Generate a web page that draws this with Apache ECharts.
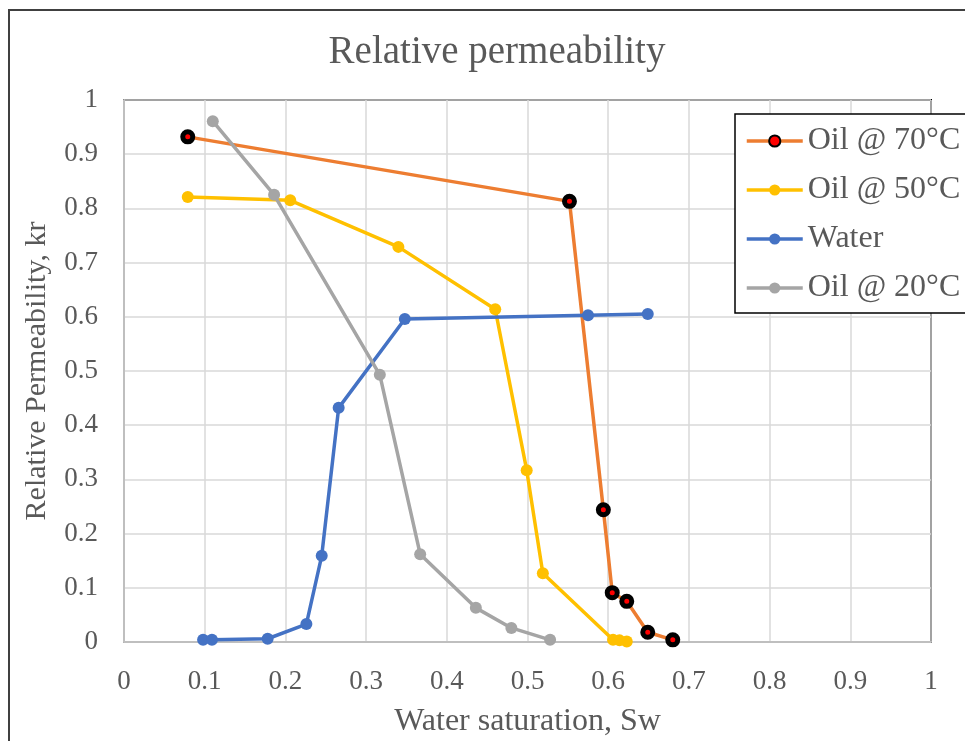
<!DOCTYPE html>
<html>
<head>
<meta charset="utf-8">
<script src="https://cdn.jsdelivr.net/npm/echarts@6/dist/echarts.min.js"></script>
<style>
  html, body { margin: 0; padding: 0; background: #ffffff; }
  #chart { width: 965px; height: 741px; }
</style>
</head>
<body>
<div id="chart"></div>
<script>
// Water saturation (Sw) and relative permeability (kr) for each curve
const sw70 = [0.079, 0.552, 0.594, 0.605, 0.623, 0.649, 0.680];
const kr70 = [0.932, 0.813, 0.244, 0.091, 0.075, 0.018, 0.004];

const sw50 = [0.079, 0.206, 0.340, 0.460, 0.499, 0.519, 0.606, 0.614, 0.623];
const kr50 = [0.821, 0.815, 0.729, 0.614, 0.317, 0.127, 0.004, 0.003, 0.001];

const swWater = [0.098, 0.109, 0.178, 0.226, 0.245, 0.266, 0.348, 0.575, 0.649];
const krWater = [0.004, 0.004, 0.006, 0.033, 0.159, 0.432, 0.596, 0.603, 0.605];

const sw20 = [0.110, 0.186, 0.317, 0.367, 0.436, 0.480, 0.528];
const kr20 = [0.961, 0.825, 0.493, 0.162, 0.063, 0.026, 0.004];

const seriesNames = ['Oil @ 70°C', 'Oil @ 50°C', 'Water', 'Oil @ 20°C'];
const titleText = 'Relative permeability';
const xAxisName = 'Water saturation, Sw';
const yAxisName = 'Relative Permeability, kr';

const pairs = (xs, ys) => xs.map((x, i) => [x, ys[i]]);

const FONT = '"Liberation Serif", "Times New Roman", serif';
const TEXT = '#595959';

const chart = echarts.init(document.getElementById('chart'), null, { renderer: 'canvas' });

function lineSeries(name, color, data, extra) {
  return Object.assign({
    name: name,
    type: 'line',
    data: data,
    symbol: 'circle',
    symbolSize: 12,
    showSymbol: true,
    lineStyle: { color: color, width: 3.5 },
    itemStyle: { color: color },
    emphasis: { disabled: true },
    animation: false
  }, extra || {});
}

chart.setOption({
  animation: false,
  backgroundColor: '#ffffff',
  title: {
    text: titleText,
    left: 492,
    textAlign: 'center',
    top: 28,
    textStyle: { fontFamily: FONT, fontSize: 39, fontWeight: 'normal', color: TEXT }
  },
  graphic: [{
    type: 'rect',
    z: 100,
    shape: { x: 9, y: 10, width: 1000, height: 800 },
    style: { fill: 'none', stroke: '#404040', lineWidth: 2 }
  }],
  grid: {
    left: 124, right: 34, top: 100, bottom: 99,
    outerBoundsMode: 'none',
    containLabel: false,
    show: true,
    borderColor: '#000000',
    borderWidth: 2,
    backgroundColor: 'transparent'
  },
  legend: {
    orient: 'vertical',
    left: 735,
    top: 114,
    itemWidth: 56,
    itemHeight: 14,
    itemGap: 17,
    padding: [11, 8, 9, 10],
    backgroundColor: '#ffffff',
    borderColor: '#000000',
    borderWidth: 1.5,
    borderRadius: 0,
    lineStyle: { width: 3.5 },
    textStyle: { fontFamily: FONT, fontSize: 32, color: TEXT },
    data: seriesNames
  },
  xAxis: {
    type: 'value',
    min: 0, max: 1, interval: 0.1,
    name: xAxisName,
    nameLocation: 'middle',
    nameGap: 64,
    nameTextStyle: { fontFamily: FONT, fontSize: 32, color: TEXT },
    axisLine: { show: true, onZero: false, lineStyle: { color: '#BFBFBF', width: 2 } },
    axisTick: { show: false },
    axisLabel: { fontFamily: FONT, fontSize: 27, color: TEXT, margin: 26 },
    splitLine: { show: true, lineStyle: { color: '#D9D9D9', width: 1.5 } }
  },
  yAxis: {
    type: 'value',
    min: 0, max: 1, interval: 0.1,
    name: yAxisName,
    nameLocation: 'middle',
    nameGap: 72,
    nameTextStyle: { fontFamily: FONT, fontSize: 30, color: TEXT },
    axisLine: { show: true, onZero: false, lineStyle: { color: '#BFBFBF', width: 2 } },
    axisTick: { show: false },
    axisLabel: { fontFamily: FONT, fontSize: 27, color: TEXT, margin: 26 },
    splitLine: { show: true, lineStyle: { color: '#D9D9D9', width: 1.5 } }
  },
  series: [
    lineSeries(seriesNames[0], '#ED7D31', pairs(sw70, kr70), {
      symbolSize: 10,
      itemStyle: { color: '#FF0000', borderColor: '#000000', borderWidth: 5 }
    }),
    lineSeries(seriesNames[1], '#FFC000', pairs(sw50, kr50)),
    lineSeries(seriesNames[2], '#4472C4', pairs(swWater, krWater)),
    lineSeries(seriesNames[3], '#A5A5A5', pairs(sw20, kr20))
  ]
});
</script>
</body>
</html>
